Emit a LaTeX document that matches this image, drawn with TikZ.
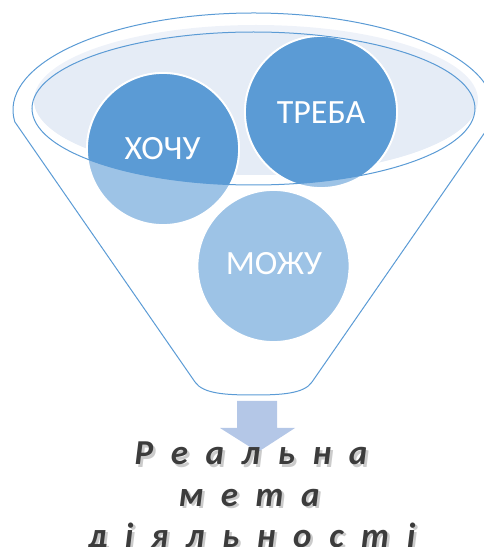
\documentclass[tikz,border=0pt]{standalone}
\usepackage{fontspec}
\setmainfont{Carlito}
\newfontfamily\capfont[LetterSpace=16,WordSpace=1.3]{Carlito}
\definecolor{lineblue}{HTML}{5B9BD5}
\definecolor{darkcirc}{HTML}{5B9BD5}
\definecolor{lightcirc}{HTML}{9DC3E6}
\definecolor{fillA}{HTML}{EEF2F9}
\definecolor{fillB}{HTML}{E5ECF6}
\definecolor{arrowblue}{HTML}{B4C7E7}
\definecolor{txtgray}{HTML}{3C3C3C}
\tikzset{
  outl/.style={draw=lineblue, line width=1pt},
  circtext/.style={text=white, inner sep=0pt, font=\fontsize{34}{40}\selectfont},
  captext/.style={anchor=base, inner sep=0pt, text=txtgray, font=\fontsize{35}{40}\selectfont\capfont\bfseries\itshape},
  capshadow/.style={anchor=base, inner sep=0pt, text=black!45, opacity=0.45, font=\fontsize{35}{40}\selectfont\capfont\bfseries\itshape},
}
\begin{document}
\begin{tikzpicture}[x=1pt,y=1pt]
\useasboundingbox (0,0) rectangle (484,547);
% funnel outline
\draw[outl] (253.5,437) ++(187:240.5pt and 97pt)
  arc[start angle=187, end angle=-7, x radius=240.5pt, y radius=97pt]
  -- (312,165) .. controls (304,153) and (280,152) .. (253.5,152)
  .. controls (227,152) and (203,153) .. (195,165) -- cycle;
% inner ellipse fill
\fill[fillA] (256,447) ellipse[x radius=222pt, y radius=75pt];
\begin{scope}
  \clip (253.5,438.5) ellipse[x radius=221.5pt, y radius=76.5pt];
  \fill[fillB] (256,447) ellipse[x radius=222pt, y radius=75pt];
\end{scope}
% circles (light)
\foreach \p in {(163,398),(321,435),(273.5,281)}
  \draw[fill=lightcirc, draw=white, line width=1.8pt] \p circle[radius=76pt];
% darker part inside the ellipse
\begin{scope}
  \clip (253.5,438.5) ellipse[x radius=221.5pt, y radius=76.5pt];
  \foreach \p in {(163,398),(321,435),(273.5,281)}
    \draw[fill=darkcirc, draw=white, line width=1.8pt] \p circle[radius=76pt];
\end{scope}
\draw[outl] (253.5,438.5) ellipse[x radius=221.5pt, y radius=76.5pt];
% labels
\node[circtext] (hochu) at (162.5,398.5) {ХОЧУ};
\node[circtext] (treba) at (321,434.5) {ТРЕБА};
\node[circtext] (mozhu) at (274,283) {МОЖУ};
% arrow
\fill[arrowblue] (237,146) -- (277,146) -- (277,119) -- (295,119) -- (258,95)
  -- (220,119) -- (237,119) -- cycle;
% caption with shadow
\node[capshadow] (s1) at (253.5,79.5) {Р е а л ь н а};
\node[capshadow] (s2) at (251.5,38.5) {м е т а};
\node[capshadow] (s3) at (254.5,-2.5) {д і я л ь н о с т і};
\node[captext] (l1) at (251,82) {Р е а л ь н а};
\node[captext] (l2) at (249,41) {м е т а};
\node[captext] (l3) at (252,0) {д і я л ь н о с т і};
\end{tikzpicture}
\end{document}
